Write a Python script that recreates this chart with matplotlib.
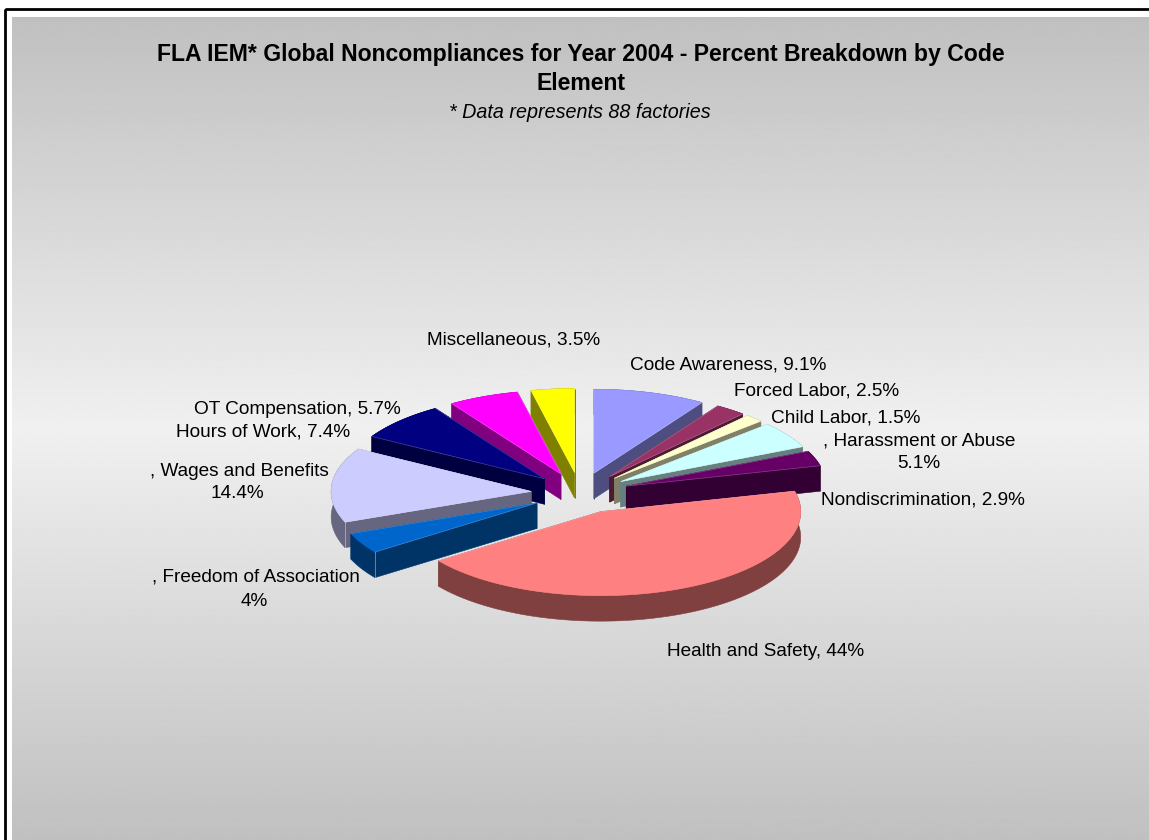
import numpy as np
import matplotlib
matplotlib.use('Agg')
import matplotlib.pyplot as plt
from matplotlib.colors import to_rgb
from matplotlib.patches import Polygon, Rectangle

plt.rcParams['font.family'] = ['Liberation Sans', 'DejaVu Sans']

# Noncompliance shares, clockwise from twelve o'clock
categories = ['Code Awareness', 'Forced Labor', 'Child Labor', 'Harassment or Abuse',
              'Nondiscrimination', 'Health and Safety', 'Freedom of Association',
              'Wages and Benefits', 'Hours of Work', 'OT Compensation', 'Miscellaneous']
values = [9.1, 2.5, 1.5, 5.1, 2.9, 44, 4, 14.4, 7.4, 5.7, 3.5]
colors = ['#9999FF', '#993366', '#FFFFCC', '#CCFFFF', '#660066', '#FF8080',
          '#0066CC', '#CCCCFF', '#000080', '#FF00FF', '#FFFF00']

title_lines = ['FLA IEM* Global Noncompliances for Year 2004 - Percent Breakdown by Code', 'Element']
subtitle = '* Data represents 88 factories'

# label text, x, y, alignment
labels = [
    ('Code Awareness, 9.1%', 630, 365, 'left'),
    ('Forced Labor, 2.5%', 734, 391, 'left'),
    ('Child Labor, 1.5%', 771, 418, 'left'),
    (', Harassment or Abuse', 919, 441, 'center'),
    ('5.1%', 919, 464, 'center'),
    ('Nondiscrimination, 2.9%', 821, 500, 'left'),
    ('Health and Safety, 44%', 667, 651, 'left'),
    (', Freedom of Association', 256, 577, 'center'),
    ('4%', 254, 601, 'center'),
    (', Wages and Benefits', 239, 471, 'center'),
    ('14.4%', 237, 494, 'center'),
    ('Hours of Work, 7.4%', 176, 432, 'left'),
    ('OT Compensation, 5.7%', 194, 409, 'left'),
    ('Miscellaneous, 3.5%', 427, 340, 'left'),
]

# pie geometry in pixels
cx, cy = 580, 493
rx, ry = 200, 84
explode = 49
depth = 25.5

W, H = 1149, 840
fig = plt.figure(figsize=(W / 100, H / 100), dpi=100)
ax = fig.add_axes([0, 0, 1, 1])
ax.axis('off')

# outer frame and grey gradient panel
grad = np.abs(np.linspace(-1, 1, 400)).reshape(-1, 1)
ax.imshow(192 + 48 * (1 - grad), cmap='gray', vmin=0, vmax=255, aspect='auto',
          extent=(12, W, 840, 17), zorder=1)
ax.add_patch(Rectangle((5, 9), W + 20, H, fc='none', ec='black', lw=2, zorder=1.5))
ax.set_xlim(0, W)
ax.set_ylim(H, 0)


def wedge_outline(t0, t1, ax0, ay0):
    t = np.linspace(t0, t1, max(int((t1 - t0) * 60), 4))
    return ax0 + rx * np.sin(t), ay0 - ry * np.cos(t)


fracs = np.array(values) / sum(values)
edges = np.r_[0, np.cumsum(fracs)] * 2 * np.pi
wedges = []
for i, col in enumerate(colors):
    t0, t1 = edges[i], edges[i + 1]
    mid = (t0 + t1) / 2
    ax0 = cx + explode * np.sin(mid)
    ay0 = cy - explode * ry / rx * np.cos(mid)
    wedges.append((ay0, ax0, t0, t1, col))

# back wedges first so the front ones paint over them
for z, (ay0, ax0, t0, t1, col) in enumerate(sorted(wedges, key=lambda w: w[0])):
    xs, ys = wedge_outline(t0, t1, ax0, ay0)
    side = tuple(c / 2 for c in to_rgb(col))
    zo = 2 + z

    # rim wall plus the two cut walls, all in the darker shade
    rim = np.r_[np.c_[xs, ys], np.c_[xs[::-1], ys[::-1] + depth]]
    ax.add_patch(Polygon(rim, closed=True, fc=side, ec=side, lw=0.4, zorder=zo))
    for ex, ey in ((xs[0], ys[0]), (xs[-1], ys[-1])):
        quad = [(ax0, ay0), (ex, ey), (ex, ey + depth), (ax0, ay0 + depth)]
        ax.add_patch(Polygon(quad, closed=True, fc=side, ec=side, lw=0.4, zorder=zo))

    top = np.r_[[[ax0, ay0]], np.c_[xs, ys]]
    ax.add_patch(Polygon(top, closed=True, fc=col, ec=col, lw=0.4, zorder=zo))

    # faint highlight along the cut edges and the front corner
    ax.plot([xs[0], ax0, xs[-1]], [ys[0], ay0, ys[-1]], color='white', alpha=0.25, lw=0.5, zorder=zo)
    if np.sin(t0) < 0 and np.cos(t0) < 0:
        ax.plot([xs[0], xs[0]], [ys[0], ys[0] + depth], color='white', alpha=0.45, lw=0.6, zorder=zo)

ax.text(580.5, 55, title_lines[0], ha='center', va='center', fontsize=16.6, fontweight='bold', zorder=30)
ax.text(580.5, 83, title_lines[1], ha='center', va='center', fontsize=16.6, fontweight='bold', zorder=30)
ax.text(580, 113, subtitle, ha='center', va='center', fontsize=14.2, style='italic', zorder=30)

for text, x, y, align in labels:
    ax.text(x, y, text, ha=align, va='center', fontsize=13.7, color='black', zorder=30)

fig.savefig('out.png', dpi=100, facecolor='white')
